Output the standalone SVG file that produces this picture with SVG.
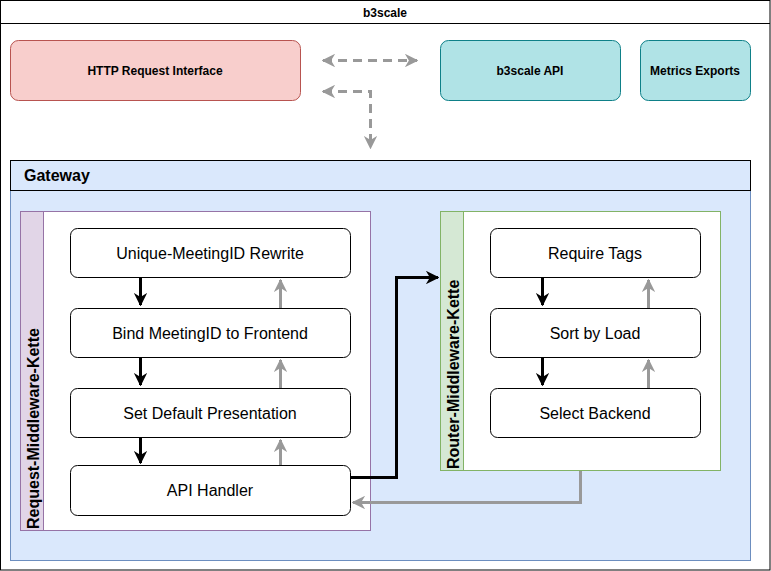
<svg xmlns="http://www.w3.org/2000/svg" width="771" height="571" viewBox="0 0 771 571">
<defs>
<style>
text{font-family:"Liberation Sans",Arial,sans-serif;fill:#000}
.b{font-weight:bold}
.t12{font-size:12px}
.t16{font-size:16px}
.box{fill:#fff;stroke:#000;stroke-width:1}
.blk{stroke:#000;stroke-width:3;fill:none}
.gry{stroke:#999;stroke-width:3;fill:none}
.dash{stroke:#999;stroke-width:3;fill:none;stroke-dasharray:9 6}
</style>
<marker id="ab" viewBox="0 0 10 10" refX="9" refY="5" markerWidth="4.5" markerHeight="4.5" orient="auto-start-reverse" markerUnits="strokeWidth"><path d="M0,0 L10,5 L0,10 L3,5 Z" fill="#000"/></marker>
<marker id="ag" viewBox="0 0 10 10" refX="9" refY="5" markerWidth="4.5" markerHeight="4.5" orient="auto-start-reverse" markerUnits="strokeWidth"><path d="M0,0 L10,5 L0,10 L3,5 Z" fill="#999"/></marker>
</defs>
<rect width="771" height="571" fill="#fff"/>
<g id="b3scale">
<rect x="0.5" y="0.5" width="769.5" height="569.5" fill="#fff" stroke="#000"/>
<line x1="0.5" y1="23.5" x2="770" y2="23.5" stroke="#000"/>
<text class="b t12" x="385" y="17" text-anchor="middle">b3scale</text>
</g>
<g id="http">
<rect x="10.5" y="40.5" width="290" height="60" rx="8" fill="#f8cecc" stroke="#b85450"/>
<text class="b t12" x="155" y="75" text-anchor="middle">HTTP Request Interface</text>
</g>
<g id="api">
<rect x="440.5" y="40.5" width="180" height="60" rx="8" fill="#b0e3e6" stroke="#0e8088"/>
<text class="b t12" x="530" y="75" text-anchor="middle">b3scale API</text>
</g>
<g id="metrics">
<rect x="640.5" y="40.5" width="110" height="60" rx="8" fill="#b0e3e6" stroke="#0e8088"/>
<text class="b t12" x="695" y="75" text-anchor="middle">Metrics Exports</text>
</g>
<g id="gateway">
<rect x="10.5" y="160.5" width="740" height="400" fill="#dae8fc" stroke="#6c8ebf"/>
<rect x="10.5" y="160.5" width="740" height="30" fill="none" stroke="#000"/>
<text class="b t16" x="24" y="181">Gateway</text>
</g>
<g id="request-chain">
<rect x="20.5" y="211.5" width="350" height="319" fill="#fff" stroke="#9673a6"/>
<rect x="20.5" y="211.5" width="23" height="319" fill="#e1d5e7" stroke="#9673a6"/>
<text class="b t16" transform="translate(38.5,529) rotate(-90)">Request-Middleware-Kette</text>
</g>
<g id="router-chain">
<rect x="440.5" y="211.5" width="280" height="259" fill="#fff" stroke="#82b366"/>
<rect x="440.5" y="211.5" width="23" height="259" fill="#d5e8d4" stroke="#82b366"/>
<text class="b t16" transform="translate(458.5,469) rotate(-90)">Router-Middleware-Kette</text>
</g>
<g id="unique"><rect class="box" x="70.5" y="228.5" width="280" height="49" rx="7"/><text class="t16" x="210" y="258.5" text-anchor="middle">Unique-MeetingID Rewrite</text></g>
<g id="bind"><rect class="box" x="70.5" y="308.5" width="280" height="49" rx="7"/><text class="t16" x="210" y="338.5" text-anchor="middle">Bind MeetingID to Frontend</text></g>
<g id="setdefault"><rect class="box" x="70.5" y="388.5" width="280" height="49" rx="7"/><text class="t16" x="210" y="418.5" text-anchor="middle">Set Default Presentation</text></g>
<g id="apihandler"><rect class="box" x="70.5" y="465.5" width="280" height="50" rx="7"/><text class="t16" x="210" y="496" text-anchor="middle">API Handler</text></g>
<g id="requiretags"><rect class="box" x="490.5" y="228.5" width="210" height="49" rx="7"/><text class="t16" x="595" y="258.5" text-anchor="middle">Require Tags</text></g>
<g id="sortbyload"><rect class="box" x="490.5" y="308.5" width="210" height="49" rx="7"/><text class="t16" x="595" y="338.5" text-anchor="middle">Sort by Load</text></g>
<g id="selectbackend"><rect class="box" x="490.5" y="388.5" width="210" height="49" rx="7"/><text class="t16" x="595" y="418.5" text-anchor="middle">Select Backend</text></g>
<g id="connectors">
<path class="dash" d="M323,60.5 H417" marker-start="url(#ag)" marker-end="url(#ag)"/>
<path class="dash" d="M323,91.5 H370.5 V148" marker-start="url(#ag)" marker-end="url(#ag)"/>
<path class="blk" d="M140.5,278 V305" marker-end="url(#ab)"/>
<path class="blk" d="M140.5,358 V385" marker-end="url(#ab)"/>
<path class="blk" d="M140.5,438 V463" marker-end="url(#ab)"/>
<path class="gry" d="M280.5,308 V280" marker-end="url(#ag)"/>
<path class="gry" d="M280.5,388 V360" marker-end="url(#ag)"/>
<path class="gry" d="M280.5,465 V440" marker-end="url(#ag)"/>
<path class="blk" d="M542.5,278 V305" marker-end="url(#ab)"/>
<path class="blk" d="M542.5,358 V385" marker-end="url(#ab)"/>
<path class="gry" d="M648.5,308 V280" marker-end="url(#ag)"/>
<path class="gry" d="M648.5,388 V360" marker-end="url(#ag)"/>
<path class="blk" d="M351,477.5 H396.5 V277.5 H438" marker-end="url(#ab)"/>
<path class="gry" d="M580.5,471 V502.5 H353" marker-end="url(#ag)"/>
</g>
</svg>
